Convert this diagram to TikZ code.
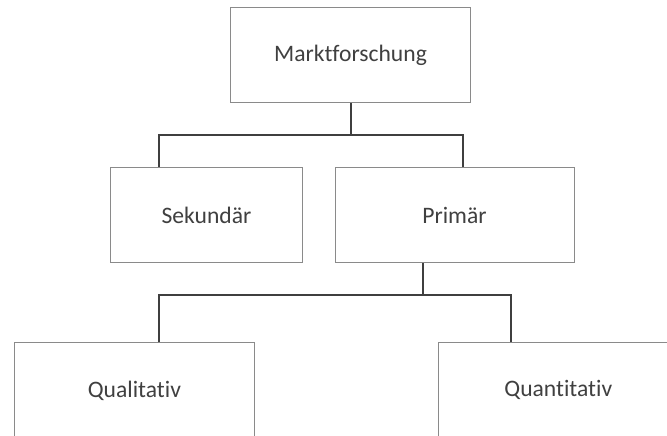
\documentclass[tikz,border=0pt]{standalone}
\usepackage{fontspec}
\setmainfont{Carlito}[Ligatures=NoCommon]
\definecolor{boxline}{HTML}{8A8A8A}
\definecolor{connline}{HTML}{3F3F3F}
\definecolor{txt}{HTML}{404040}
\begin{document}
\begin{tikzpicture}[x=1pt,y=-1pt,
  orgbox/.style={draw=boxline,line width=1pt,fill=white,minimum height=95.4pt,
    inner sep=0pt,text=txt,font=\fontsize{23.6pt}{28pt}\selectfont},
  conn/.style={draw=connline,line width=2pt}]
\useasboundingbox (0,0) rectangle (667,436);
\clip (0,0) rectangle (667,436);
\fill[white] (0,0) rectangle (667,436);
\node[orgbox,minimum width=240.4pt] (markt) at (350.5,55) {Marktforschung};
\node[orgbox,minimum width=191.6pt] (sek) at (206.5,215) {Sekundär};
\node[orgbox,minimum width=239pt] (prim) at (454.5,215) {Primär};
\node[orgbox,minimum width=239.3pt] (qual) at (134.4,390.4) {Qualitativ};
\node[orgbox,minimum width=239.5pt] (quan) at (558.3,390.4) {Quantitativ};
\coordinate (a1) at (159.3,135);
\coordinate (a2) at (463.3,135);
\coordinate (b0) at (422.7,295);
\coordinate (b1) at (158.7,295);
\coordinate (b2) at (510.6,295);
\draw[conn] (markt.south) -- (markt.south |- a1);
\draw[conn] (sek.north -| a1) -- (a1) -- (a2) -- (prim.north -| a2);
\draw[conn] (prim.south -| b0) -- (b0);
\draw[conn] (qual.north -| b1) -- (b1) -- (b2) -- (quan.north -| b2);
\end{tikzpicture}
\end{document}
